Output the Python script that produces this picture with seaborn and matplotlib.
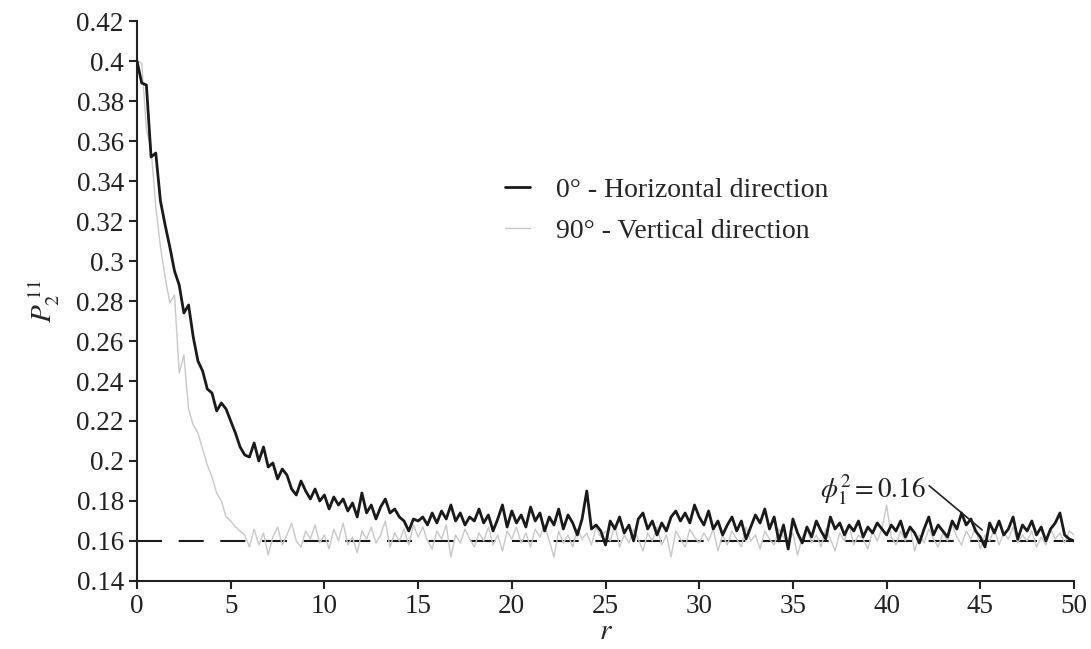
import numpy as np
import pandas as pd
import seaborn as sns
import matplotlib.pyplot as plt

# r sampled every 0.25 from 0 to 50
r = np.arange(0, 50.01, 0.25)

# 0 deg - horizontal direction
horizontal = [
    0.400, 0.389, 0.388, 0.352, 0.354, 0.330, 0.318, 0.307, 0.295, 0.288,
    0.274, 0.278, 0.262, 0.250, 0.245, 0.236, 0.234, 0.225, 0.229, 0.226,
    0.220, 0.214, 0.207, 0.203, 0.202, 0.209, 0.200, 0.207, 0.197, 0.199,
    0.191, 0.196, 0.193, 0.186, 0.183, 0.190, 0.185, 0.181, 0.186, 0.180,
    0.183, 0.176, 0.182, 0.178, 0.181, 0.175, 0.179, 0.172, 0.184, 0.174,
    0.178, 0.171, 0.177, 0.181, 0.174, 0.176, 0.172, 0.170, 0.165, 0.171,
    0.170, 0.172, 0.168, 0.174, 0.169, 0.175, 0.171, 0.178, 0.170, 0.174,
    0.168, 0.172, 0.170, 0.176, 0.169, 0.173, 0.165, 0.171, 0.178, 0.167,
    0.175, 0.169, 0.173, 0.167, 0.177, 0.170, 0.174, 0.165, 0.172, 0.168,
    0.176, 0.166, 0.173, 0.169, 0.163, 0.171, 0.185, 0.166, 0.168, 0.165,
    0.158, 0.170, 0.166, 0.172, 0.164, 0.168, 0.160, 0.171, 0.174, 0.166,
    0.170, 0.163, 0.169, 0.165, 0.172, 0.175, 0.170, 0.174, 0.169, 0.178,
    0.172, 0.168, 0.175, 0.166, 0.170, 0.163, 0.168, 0.172, 0.165, 0.170,
    0.161, 0.167, 0.173, 0.169, 0.176, 0.166, 0.172, 0.160, 0.168, 0.156,
    0.171, 0.164, 0.159, 0.167, 0.162, 0.170, 0.165, 0.161, 0.172, 0.166,
    0.169, 0.163, 0.168, 0.165, 0.170, 0.162, 0.167, 0.164, 0.169, 0.166,
    0.163, 0.168, 0.165, 0.170, 0.162, 0.167, 0.164, 0.159, 0.166, 0.172,
    0.163, 0.168, 0.165, 0.162, 0.170, 0.166, 0.174, 0.168, 0.171, 0.165,
    0.162, 0.157, 0.169, 0.164, 0.170, 0.163, 0.166, 0.172, 0.161, 0.168,
    0.165, 0.170, 0.163, 0.167, 0.160, 0.166, 0.169, 0.174, 0.163, 0.161,
    0.160,
]

# 90 deg - vertical direction
vertical = [
    0.400, 0.399, 0.366, 0.356, 0.327, 0.307, 0.292, 0.279, 0.283, 0.244,
    0.253, 0.226, 0.218, 0.214, 0.206, 0.198, 0.192, 0.184, 0.180, 0.172,
    0.170, 0.167, 0.165, 0.163, 0.157, 0.166, 0.158, 0.164, 0.153, 0.162,
    0.167, 0.158, 0.163, 0.169, 0.160, 0.157, 0.165, 0.161, 0.168, 0.159,
    0.163, 0.156, 0.166, 0.160, 0.169, 0.158, 0.162, 0.154, 0.165, 0.161,
    0.167, 0.159, 0.163, 0.170, 0.157, 0.164, 0.160, 0.166, 0.158, 0.168,
    0.162, 0.167, 0.160, 0.156, 0.165, 0.161, 0.168, 0.152, 0.163, 0.159,
    0.166, 0.161, 0.157, 0.164, 0.160, 0.167, 0.158, 0.163, 0.155, 0.165,
    0.161, 0.167, 0.159, 0.164, 0.157, 0.166, 0.162, 0.168, 0.160, 0.152,
    0.165, 0.159, 0.163, 0.157, 0.166, 0.161, 0.164, 0.158, 0.167, 0.162,
    0.165, 0.160, 0.168, 0.157, 0.163, 0.159, 0.166, 0.161, 0.155, 0.164,
    0.160, 0.167, 0.158, 0.163, 0.152, 0.165, 0.161, 0.157, 0.166, 0.162,
    0.159, 0.164, 0.160, 0.166, 0.155, 0.163, 0.158, 0.165, 0.161, 0.157,
    0.167, 0.160, 0.163, 0.156, 0.165, 0.161, 0.158, 0.166, 0.162, 0.159,
    0.164, 0.153, 0.162, 0.167, 0.159, 0.163, 0.157, 0.166, 0.161, 0.155,
    0.164, 0.160, 0.168, 0.158, 0.163, 0.161, 0.156, 0.165, 0.160, 0.166,
    0.178, 0.162, 0.158, 0.165, 0.160, 0.167, 0.155, 0.163, 0.159, 0.166,
    0.161, 0.157, 0.164, 0.160, 0.168, 0.162, 0.158, 0.165, 0.161, 0.167,
    0.156, 0.163, 0.160, 0.166, 0.158, 0.164, 0.161, 0.167, 0.159, 0.163,
    0.160, 0.165, 0.157, 0.162, 0.158, 0.166, 0.161, 0.164, 0.159, 0.165,
    0.163,
]

phi_sq = 0.16
x_ticks = [0, 5, 10, 15, 20, 25, 30, 35, 40, 45, 50]
y_ticks = [0.14, 0.16, 0.18, 0.2, 0.22, 0.24, 0.26, 0.28, 0.3, 0.32, 0.34, 0.36, 0.38, 0.4, 0.42]
y_tick_labels = ['0.14', '0.16', '0.18', '0.2', '0.22', '0.24', '0.26', '0.28', '0.3',
                 '0.32', '0.34', '0.36', '0.38', '0.4', '0.42']

df = pd.DataFrame({'r': r, 'h': horizontal, 'v': vertical})

sns.set_style('ticks')
plt.rcParams['font.family'] = ['Liberation Serif', 'DejaVu Serif']
plt.rcParams['mathtext.fontset'] = 'stix'

fig, ax = plt.subplots(figsize=(10.91, 6.49), dpi=100)
fig.subplots_adjust(left=0.1256, right=0.9844, top=0.9676, bottom=0.1048)

ax.axhline(phi_sq, color='#1a1a1a', lw=1.5, dashes=(12, 8), zorder=1)
sns.lineplot(data=df, x='r', y='v', ax=ax, color='#c8c8c8', lw=1.0,
             label='90° - Vertical direction', zorder=2)
sns.lineplot(data=df, x='r', y='h', ax=ax, color='#1a1a1a', lw=2.0,
             label='0° - Horizontal direction', zorder=3)

ax.set_xlim(0, 50)
ax.set_ylim(0.14, 0.42)
ax.set_xticks(x_ticks)
ax.set_yticks(y_ticks)
ax.set_yticklabels(y_tick_labels)
ax.tick_params(labelsize=19.5, length=6, width=1.5, color='#222222', labelcolor='#222222')
for side in ['left', 'bottom']:
    ax.spines[side].set_linewidth(1.5)
    ax.spines[side].set_color('#222222')
sns.despine(ax=ax)

ax.set_xlabel(r'$r$', fontsize=21, labelpad=0)
ax.set_ylabel(r'$P_2^{\,11}$', fontsize=21, labelpad=10)

handles, labels = ax.get_legend_handles_labels()
ax.legend(handles[::-1], labels[::-1], loc='upper left', bbox_to_anchor=(0.366, 0.765),
          frameon=False, fontsize=20, handlelength=0.9, handletextpad=0.95, labelspacing=0.55)

ax.annotate(r'$\phi_1^2 = 0.16$', xy=(45.1, 0.1655), xytext=(42.1, 0.1855),
            ha='right', va='center', fontsize=19.5, color='#222222',
            arrowprops=dict(arrowstyle='-', color='#222222', lw=1.2, shrinkA=0, shrinkB=0,
                            relpos=(1.0, 0.7)))

fig.savefig('out.png', dpi=100)
